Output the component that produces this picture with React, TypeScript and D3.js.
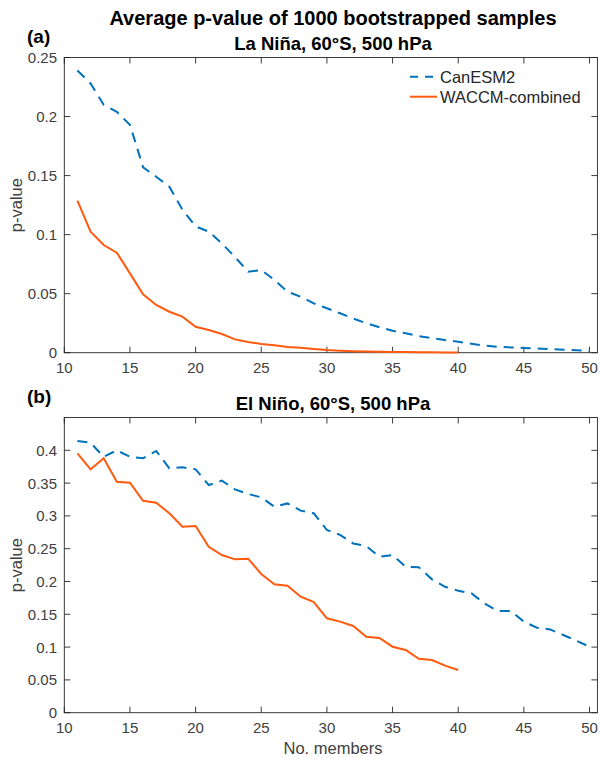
import React from "react";
import * as d3 from "d3";

const width = 600;
const height = 758;

// members on the x axis
const membersCan = d3.range(11, 51);
const membersWaccm = d3.range(11, 41);

// (a) La Nina
const laNinaCan = [
  0.239, 0.228, 0.21, 0.204, 0.193, 0.157, 0.149, 0.1406, 0.121, 0.107,
  0.1025, 0.0926, 0.081, 0.0686, 0.07, 0.0616, 0.0517, 0.0474, 0.0418, 0.0376,
  0.0334, 0.029, 0.025, 0.0215, 0.0186, 0.0164, 0.0141, 0.0124, 0.0107, 0.0093,
  0.0075, 0.006, 0.005, 0.0045, 0.004, 0.0035, 0.003, 0.0025, 0.002, 0.0015,
];
const laNinaWaccm = [
  0.1288, 0.1025, 0.0912, 0.0847, 0.0672, 0.0494, 0.0404, 0.0347, 0.0305, 0.022,
  0.0192, 0.0158, 0.0113, 0.0091, 0.0074, 0.0063, 0.0048, 0.0042, 0.0032, 0.0022,
  0.0017, 0.0013, 0.001, 0.0008, 0.0006, 0.0005, 0.0004, 0.0003, 0.0002, 0.0002,
];

// (b) El Nino
const elNinoCan = [
  0.414, 0.4116, 0.39, 0.4, 0.39, 0.388, 0.399, 0.3725, 0.374, 0.371,
  0.347, 0.3537, 0.3405, 0.3334, 0.3283, 0.314, 0.319, 0.308, 0.304, 0.2785,
  0.271, 0.258, 0.254, 0.2378, 0.2404, 0.2226, 0.2216, 0.2033, 0.192, 0.186,
  0.182, 0.1667, 0.155, 0.155, 0.1388, 0.1296, 0.127, 0.1184, 0.1098, 0.1006,
];
const elNinoWaccm = [
  0.3954, 0.371, 0.3878, 0.352, 0.3506, 0.323, 0.32, 0.304, 0.2835, 0.2846,
  0.253, 0.2404, 0.2338, 0.2348, 0.2114, 0.1957, 0.1936, 0.1768, 0.1687, 0.1439,
  0.1388, 0.1322, 0.1159, 0.1139, 0.1006, 0.0956, 0.0823, 0.0803, 0.0717, 0.0651,
];

const xTicks = [10, 15, 20, 25, 30, 35, 40, 45, 50];
const yTicksA = [0, 0.05, 0.1, 0.15, 0.2, 0.25];
const yTicksB = [0, 0.05, 0.1, 0.15, 0.2, 0.25, 0.3, 0.35, 0.4];

const blue = "#0072BD";
const orange = "#FF5A0F";
const axisColor = "#262626";
const font = "'Liberation Sans', Arial, Helvetica, sans-serif";

const left = 64.3;
const right = 597.4;
const x = d3.scaleLinear().domain([10, 50.6]).range([left, right]);

const panels = [
  {
    label: "(a)",
    title: "La Niña, 60°S, 500 hPa",
    can: laNinaCan,
    waccm: laNinaWaccm,
    y: d3.scaleLinear().domain([0, 0.25]).range([352.7, 57.5]),
    yTicks: yTicksA,
    legend: true,
    xLabel: false,
  },
  {
    label: "(b)",
    title: "El Niño, 60°S, 500 hPa",
    can: elNinoCan,
    waccm: elNinoWaccm,
    y: d3.scaleLinear().domain([0, 0.45]).range([712.7, 417.5]),
    yTicks: yTicksB,
    legend: false,
    xLabel: true,
  },
];

function Panel({ p }) {
  const [y0, y1] = p.y.range();
  const line = d3
    .line<[number, number]>()
    .x((d) => x(d[0]))
    .y((d) => p.y(d[1]));
  const canPts = membersCan.map((m, i) => [m, p.can[i]] as [number, number]);
  const waccmPts = membersWaccm.map((m, i) => [m, p.waccm[i]] as [number, number]);
  const tick = 6;
  const midY = (y0 + y1) / 2;

  return (
    <g>
      {/* box */}
      <rect x={left} y={y1} width={right - left} height={y0 - y1} fill="white" stroke={axisColor} strokeWidth={0.9} />
      {xTicks.map((t) => (
        <g key={"x" + t}>
          <line x1={x(t)} x2={x(t)} y1={y0} y2={y0 - tick} stroke={axisColor} strokeWidth={0.9} />
          <line x1={x(t)} x2={x(t)} y1={y1} y2={y1 + tick} stroke={axisColor} strokeWidth={0.9} />
          <text x={x(t)} y={y0 + 20} textAnchor="middle" fontSize={15} fill="#404040">
            {t}
          </text>
        </g>
      ))}
      {p.yTicks.map((t) => (
        <g key={"y" + t}>
          <line x1={left} x2={left + tick} y1={p.y(t)} y2={p.y(t)} stroke={axisColor} strokeWidth={0.9} />
          <line x1={right} x2={right - tick} y1={p.y(t)} y2={p.y(t)} stroke={axisColor} strokeWidth={0.9} />
          <text x={57} y={p.y(t)} dy="0.36em" textAnchor="end" fontSize={15} fill="#404040">
            {t}
          </text>
        </g>
      ))}
      <path d={line(canPts) || ""} fill="none" stroke={blue} strokeWidth={2} strokeDasharray="10,7" />
      <path d={line(waccmPts) || ""} fill="none" stroke={orange} strokeWidth={2} />

      <text x={22} y={midY} transform={`rotate(-90 22 ${midY})`} textAnchor="middle" fontSize={16.5} fill="#404040">
        p-value
      </text>
      <text x={27} y={y1 - 15} fontSize={19} fontWeight="bold" fill="black">
        {p.label}
      </text>
      <text x={333} y={y1 - 8} textAnchor="middle" fontSize={18.5} fontWeight="bold" fill="black">
        {p.title}
      </text>
      {p.xLabel && (
        <text x={333} y={y0 + 41} textAnchor="middle" fontSize={16.5} fill="#404040">
          No. members
        </text>
      )}
      {p.legend && (
        <g>
          <line x1={410} x2={437} y1={76.7} y2={76.7} stroke={blue} strokeWidth={2} strokeDasharray="8,7" />
          <text x={440} y={76.7} dy="0.36em" fontSize={16.5} fill={axisColor}>
            CanESM2
          </text>
          <line x1={410} x2={437} y1={96.7} y2={96.7} stroke={orange} strokeWidth={2} />
          <text x={440} y={96.7} dy="0.36em" fontSize={16.5} fill={axisColor}>
            WACCM-combined
          </text>
        </g>
      )}
    </g>
  );
}

export default function App() {
  return (
    <svg
      width={width}
      height={height}
      style={{ position: "absolute", left: 0, top: 0, background: "white" }}
      fontFamily={font}
    >
      <rect width={width} height={height} fill="white" />
      <text x={333} y={25} textAnchor="middle" fontSize={20} fontWeight="bold" fill="black">
        Average p-value of 1000 bootstrapped samples
      </text>
      {panels.map((p) => (
        <Panel key={p.label} p={p} />
      ))}
    </svg>
  );
}
